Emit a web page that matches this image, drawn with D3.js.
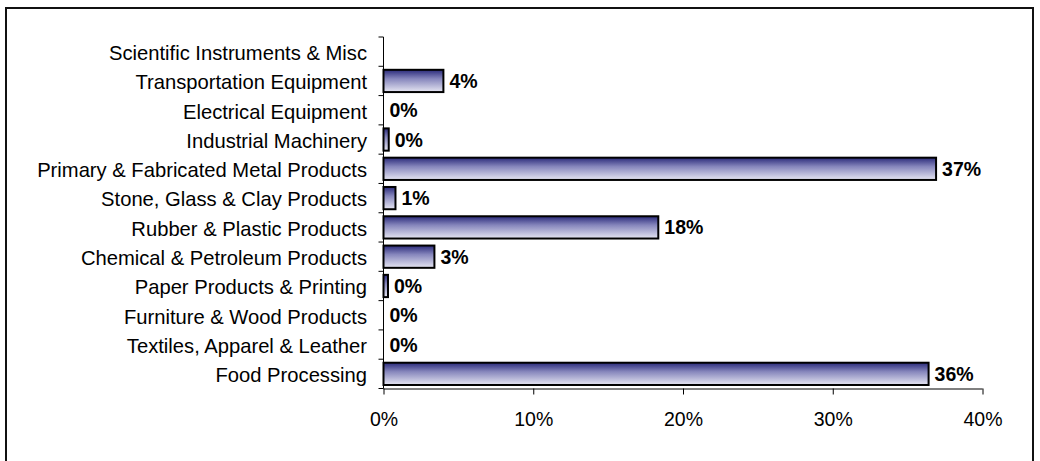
<!DOCTYPE html>
<html><head><meta charset="utf-8">
<script src="https://cdn.jsdelivr.net/npm/d3@7"></script>
<style>
html,body{margin:0;padding:0;background:#fff;}
svg{display:block;font-family:Arial,"Liberation Sans",sans-serif;}
</style></head>
<body>
<svg id="c" width="1040" height="461"></svg>
<script>
const categories = [
  "Scientific Instruments & Misc",
  "Transportation Equipment",
  "Electrical Equipment",
  "Industrial Machinery",
  "Primary & Fabricated Metal Products",
  "Stone, Glass & Clay Products",
  "Rubber & Plastic Products",
  "Chemical & Petroleum Products",
  "Paper Products & Printing",
  "Furniture & Wood Products",
  "Textiles, Apparel & Leather",
  "Food Processing"
];
const values = [null, 4.0, 0.0, 0.35, 36.9, 0.8, 18.35, 3.4, 0.3, 0.0, 0.0, 36.4];
const xTicks = [0, 10, 20, 30, 40];

(function(){
const svg = d3.select("#c");
const pLeft = 383.5, pRight = 982.5, pTop = 37, pBottom = 388.5;
const FONT = "Arial, 'Liberation Sans', sans-serif";

svg.append("rect").attr("x", 6).attr("y", 8).attr("width", 1027).attr("height", 470)
  .attr("fill", "#fff").attr("stroke", "#111").attr("stroke-width", 2);

const defs = svg.append("defs");
const g = defs.append("linearGradient").attr("id", "bg").attr("x1", 0).attr("y1", 0).attr("x2", 0).attr("y2", 1);
g.append("stop").attr("offset", "0%").attr("stop-color", "#2a2a7a");
g.append("stop").attr("offset", "40%").attr("stop-color", "#8686bc");
g.append("stop").attr("offset", "100%").attr("stop-color", "#e6e6f2");

const x = d3.scaleLinear().domain([0, 40]).range([pLeft, pRight]);
const y = d3.scaleBand().domain(categories).range([pTop, pBottom]).paddingInner(0.24).paddingOuter(0.12);

const data = categories.map((c, i) => ({c, v: values[i]}));
svg.append("g").selectAll("rect").data(data.filter(d => d.v !== null && d.v > 0)).join("rect")
  .attr("x", x(0)).attr("y", d => y(d.c))
  .attr("width", d => x(d.v) - x(0)).attr("height", y.bandwidth())
  .attr("fill", "url(#bg)").attr("stroke", "#000").attr("stroke-width", 2);

svg.append("g").selectAll("text").data(data.filter(d => d.v !== null)).join("text")
  .attr("x", d => x(d.v) + 6)
  .attr("y", d => y(d.c) + y.bandwidth() / 2)
  .attr("dy", "0.36em")
  .attr("font-size", 19.5).attr("font-weight", "bold").attr("fill", "#000")
  .text(d => Math.round(d.v) + "%");

const yax = svg.append("g").attr("stroke", "#000");
yax.append("line").attr("x1", pLeft).attr("x2", pLeft).attr("y1", pTop).attr("y2", pBottom);
const bounds = d3.range(categories.length + 1).map(i => pTop + (pBottom - pTop) * i / categories.length);
yax.selectAll("line.t").data(bounds).join("line").attr("class", "t")
  .attr("x1", pLeft - 5).attr("x2", pLeft).attr("y1", d => d).attr("y2", d => d);

svg.append("g").selectAll("text").data(categories).join("text")
  .attr("x", 367).attr("y", (d, i) => (bounds[i] + bounds[i + 1]) / 2 + 1).attr("dy", "0.36em")
  .attr("text-anchor", "end").attr("font-size", 20.2).attr("fill", "#000").text(d => d);

const xAxis = d3.axisBottom(x).tickValues(xTicks).tickSize(6).tickPadding(18).tickFormat(d => d + "%");
const xg = svg.append("g").attr("transform", `translate(0,${pBottom})`).call(xAxis);
xg.select(".domain").attr("stroke", "#000").attr("d", `M${pLeft},0.5H${pRight}`);
xg.selectAll(".tick line").attr("stroke", "#000");
xg.selectAll(".tick text").attr("font-size", 19.5).attr("fill", "#000").attr("font-family", FONT);
})();
</script>
</body></html>
